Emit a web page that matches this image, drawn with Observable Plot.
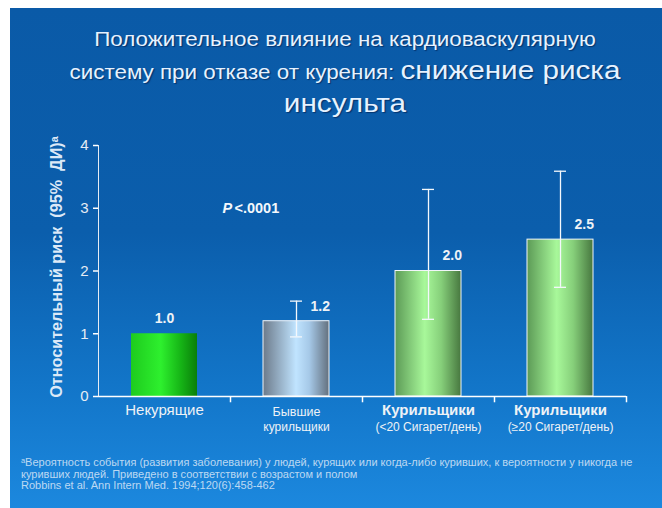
<!DOCTYPE html>
<html>
<head>
<meta charset="utf-8">
<script src="https://cdn.jsdelivr.net/npm/d3@7"></script>
<script src="https://cdn.jsdelivr.net/npm/@observablehq/plot@0.6"></script>
<style>
  html, body { margin: 0; padding: 0; background: #ffffff; }
  #page { position: relative; width: 662px; height: 508px; overflow: hidden; background: #ffffff; font-family: "Liberation Sans", Arial, sans-serif; }
  #slide { position: absolute; left: 10px; top: 8px; width: 652px; height: 500px;
    background: linear-gradient(180deg, #0a5aa7 0%, #0b5eac 45%, #1275c8 75%, #1c88de 100%); }
  #title { position: absolute; left: 19px; top: 24px; width: 652px; text-align: center; color: #e6f2ff;
    font-size: 20px; line-height: 31px; transform: scaleX(1.12); transform-origin: 326px 0;
    text-shadow: 1px 1px 1px rgba(0,20,60,0.55); }
  #title .big { font-size: 26.5px; }
  #chart { position: absolute; left: 0; top: 125px; }
  #foot { position: absolute; left: 21px; top: 457px; width: 640px; color: rgba(235,242,250,0.78);
    font-size: 11px; line-height: 11.5px; white-space: nowrap; }
</style>
</head>
<body>
<div id="page">
  <div id="slide"></div>
  <div id="title">Положительное влияние на кардиоваскулярную<br>систему при отказе от курения: <span class="big">снижение риска</span><br><span class="big">инсульта</span></div>
  <div id="chart"></div>
  <div id="foot">ᵃВероятность события (развития заболевания) у людей, курящих или когда-либо куривших, к вероятности у никогда не<br>куривших людей. Приведено в соответствии с возрастом и полом<br>Robbins et al. Ann Intern Med. 1994;120(6):458-462</div>
</div>
<script>
const categories = ["Некурящие", "Бывшие курильщики", "Курильщики (<20)", "Курильщики (≥20)"];
const values = [1.0, 1.2, 2.0, 2.5];
const ciLow = [null, 0.95, 1.23, 1.74];
const ciHigh = [null, 1.52, 3.30, 3.59];
const valueLabels = ["1.0", "1.2", "2.0", "2.5"];
const labelLine1 = ["Некурящие", "Бывшие", "Курильщики", "Курильщики"];
const labelLine2 = ["", "курильщики", "(<20 Сигарет/день)", "(≥20 Сигарет/день)"];
const yTicks = [0, 1, 2, 3, 4];
const yLabel = "Относительный риск  (95%  ДИ)ᵃ";
const pText = ["P", "<.0001"];

const gradIds = ["gGreen", "gSilver", "gLight", "gLight"];
const data = categories.map((c, i) => ({
  cat: c, value: values[i], lo: ciLow[i], hi: ciHigh[i], label: valueLabels[i],
  l1: labelLine1[i], l2: labelLine2[i], grad: gradIds[i]
}));
const withCI = data.filter(d => d.lo != null);

const marks = [];
data.forEach((d, i) => {
  marks.push(Plot.barY([d], {x: "cat", y: "value", fill: `url(#${d.grad})`,
    stroke: i === 0 ? "none" : "#f2f6fa", strokeWidth: 1}));
});
marks.push(
  Plot.ruleY([0], {stroke: "#ffffff", strokeWidth: 1.5}),
  Plot.ruleX(categories, {x: d => d, dx: 66, y1: 0, y2: -0.1, stroke: "#ffffff", strokeWidth: 1.5}),
  Plot.ruleX(withCI, {x: "cat", y1: "lo", y2: "hi", stroke: "#f4f8fc", strokeWidth: 1.3}),
  Plot.tickY(withCI, {x: "cat", y: "lo", stroke: "#f4f8fc", strokeWidth: 1.3, insetLeft: 27, insetRight: 27}),
  Plot.tickY(withCI, {x: "cat", y: "hi", stroke: "#f4f8fc", strokeWidth: 1.3, insetLeft: 27, insetRight: 27}),
  Plot.text(data.slice(0, 1), {x: "cat", y: "value", text: "label", dy: -15, fill: "#eef2f6", fontSize: 14, fontWeight: "bold"}),
  Plot.text(data.slice(1), {x: "cat", y: "value", text: "label", dy: -15, dx: 14, textAnchor: "start", fill: "#eef2f6", fontSize: 14, fontWeight: "bold"}),
  Plot.text(data.slice(0, 1), {x: "cat", y: () => 0, text: "l1", dy: 14, fill: "#eef2f6", fontSize: 15}),
  Plot.text(data.slice(1, 2), {x: "cat", y: () => 0, text: "l1", dy: 15, fill: "#eef2f6", fontSize: 12.5}),
  Plot.text(data.slice(2), {x: "cat", y: () => 0, text: "l1", dy: 14, fill: "#eef2f6", fontSize: 15, fontWeight: "bold"}),
  Plot.text(data.slice(1), {x: "cat", y: () => 0, text: "l2", dy: 31, fill: "#eef2f6", fontSize: 12}),
  Plot.text([yLabel], {frameAnchor: "left", text: d => d, rotate: -90, dx: -42, dy: -4, textAnchor: "middle", fill: "#dce9f7", fontSize: 16.2, fontWeight: "bold"}),
  Plot.text([pText[0]], {x: () => categories[1], y: () => 3, text: d => d, dx: -74, textAnchor: "start", fill: "#f4f8fc", fontSize: 14.5, fontWeight: "bold", fontStyle: "italic"}),
  Plot.text([pText[1]], {x: () => categories[1], y: () => 3, text: d => d, dx: -62, textAnchor: "start", fill: "#f4f8fc", fontSize: 14.5, fontWeight: "bold"})
);

const chart = Plot.plot({
  width: 662, height: 310,
  marginTop: 20, marginBottom: 39, marginLeft: 98, marginRight: 36,
  style: {background: "transparent", color: "#e6ecf4", fontFamily: "'Liberation Sans', Arial, sans-serif", fontSize: "15px", overflow: "visible"},
  x: {domain: categories, paddingInner: 0.5, paddingOuter: 0.25, axis: null},
  y: {domain: [0, 4], ticks: yTicks, tickSize: 5, tickPadding: 5, line: true, label: null, tickFormat: d => String(d)},
  marks
});

const svg = d3.select(chart);
const defs = svg.insert("defs", ":first-child");
function grad(id, stops) {
  const g = defs.append("linearGradient").attr("id", id).attr("x1", 0).attr("x2", 1).attr("y1", 0).attr("y2", 0);
  stops.forEach(([o, c]) => g.append("stop").attr("offset", o).attr("stop-color", c));
}
grad("gGreen", [[0, "#1ecb1e"], [0.45, "#2ef02e"], [0.75, "#16b516"], [1, "#0a7f0a"]]);
grad("gSilver", [[0, "#6c7a8a"], [0.5, "#c0e4ff"], [0.7, "#a6c9e8"], [1, "#63707e"]]);
grad("gLight", [[0, "#5c9a56"], [0.45, "#a8f89a"], [0.7, "#86cf7a"], [1, "#47773f"]]);
svg.selectAll("[aria-label='y-axis line'] path, [aria-label='y-axis tick'] path").attr("stroke", "#ffffff").attr("stroke-width", 1.5);
document.getElementById("chart").appendChild(chart);
</script>
</body>
</html>
